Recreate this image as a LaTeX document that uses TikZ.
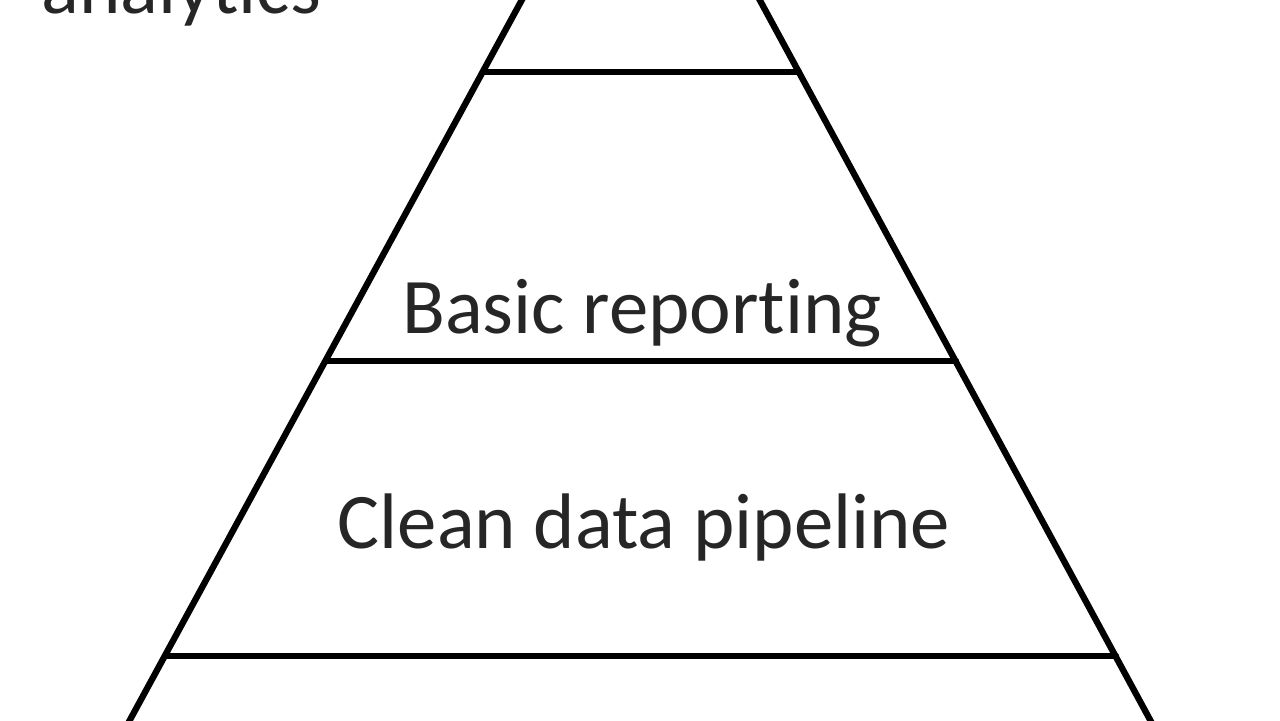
\documentclass[tikz,border=0pt]{standalone}
\usepackage{fontspec}
\setmainfont{Carlito}[Ligatures=CommonOff]
\tikzset{
	edge/.style={line width=1.8pt, line cap=round},
	tier/.style={font=\fontsize{22.4}{26}\selectfont, text=black!85, inner sep=0pt, anchor=base}
}

\begin{document}
\begin{tikzpicture}[x=0.01cm, y=-0.01cm]
			%%%%% START %%%%%
			
			\useasboundingbox (0, 0) rectangle (1280, 720);
			\clip (0, 0) rectangle (1280, 720);
			
			\coordinate (apex) at (641, -219);
			\coordinate (left) at (119, 740);
			\coordinate (right) at (1161, 740);
			
			\draw[edge] (apex) -- (left);
			\draw[edge] (apex) -- (right);
			
			\draw[edge] (483, 72) -- (799, 72);
			\draw[edge] (326, 361) -- (956, 361);
			\draw[edge] (166, 656) -- (1116, 656);
			
			\node[tier, anchor=base west] (analytics) at (41, 13) {analytics};
			\node[tier] (reporting) at (642, 333) {Basic reporting};
			\node[tier] (pipeline) at (644, 548) {Clean data pipeline};
			
			%%%%% END %%%%%
\end{tikzpicture}
\end{document}
